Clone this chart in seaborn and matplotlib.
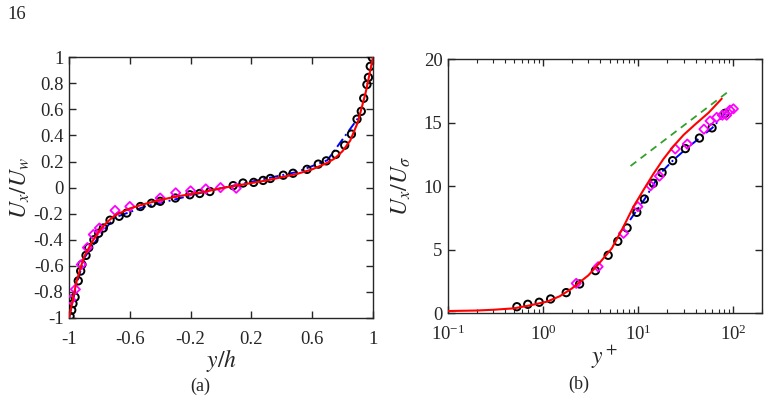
import numpy as np
import pandas as pd
import seaborn as sns
import matplotlib
matplotlib.use("Agg")
import matplotlib.pyplot as plt
from matplotlib import ticker

# ---- panel (a): U_x/U_w against y/h ----
a_circ_y = [-0.993, -0.982, -0.974, -0.96, -0.939, -0.923, -0.915, -0.888, -0.87, -0.836,
            -0.805, -0.774, -0.73, -0.67, -0.62, -0.53, -0.457, -0.40, -0.30, -0.205,
            -0.14, -0.073, 0.08, 0.145, 0.215, 0.277, 0.325, 0.41, 0.474, 0.566,
            0.64, 0.693, 0.755, 0.814, 0.858, 0.895, 0.923, 0.939, 0.96, 0.97, 0.982, 0.996]
a_circ_u = [-0.987, -0.94, -0.89, -0.84, -0.715, -0.64, -0.59, -0.52, -0.46, -0.40,
            -0.35, -0.31, -0.25, -0.22, -0.195, -0.145, -0.12, -0.105, -0.08, -0.055,
            -0.045, -0.03, 0.015, 0.035, 0.04, 0.055, 0.07, 0.095, 0.11, 0.14,
            0.18, 0.205, 0.255, 0.325, 0.41, 0.525, 0.585, 0.685, 0.79, 0.845, 0.93, 0.997]

a_diam_y = [-0.989, -0.958, -0.919, -0.879, -0.84, -0.80, -0.697, -0.60, -0.40, -0.298,
            -0.20, -0.10, -0.003, 0.10]
a_diam_u = [-0.86, -0.78, -0.59, -0.46, -0.36, -0.31, -0.175, -0.145, -0.08, -0.04,
            -0.025, -0.01, 0.0, -0.005]

a_blue_y = [-1.0, -0.95, -0.9, -0.8, -0.7, -0.5, -0.3, -0.1, 0.1, 0.3, 0.5, 0.7, 0.9]
a_blue_u = [-1.0, -0.74, -0.54, -0.37, -0.23, -0.145, -0.09, -0.03, 0.02, 0.07, 0.12, 0.21, 0.53]

a_red_y = [-1.0, -0.97, -0.95, -0.92, -0.9, -0.85, -0.8, -0.75, -0.7, -0.6, -0.5, -0.4,
           -0.3, -0.2, -0.1, 0.0, 0.1, 0.2, 0.3, 0.4, 0.5, 0.6, 0.7, 0.75, 0.8, 0.85,
           0.9, 0.95, 0.97, 1.0]
a_red_u = [-1.0, -0.83, -0.72, -0.6, -0.53, -0.42, -0.33, -0.265, -0.215, -0.16, -0.125,
           -0.095, -0.07, -0.05, -0.03, -0.005, 0.015, 0.035, 0.055, 0.08, 0.105, 0.14,
           0.19, 0.225, 0.28, 0.36, 0.5, 0.72, 0.83, 1.0]

a_xticks = [-1, -0.6, -0.2, 0.2, 0.6, 1]
a_yticks = [-1, -0.8, -0.6, -0.4, -0.2, 0, 0.2, 0.4, 0.6, 0.8, 1]

# ---- panel (b): U_x/U_sigma against y+ ----
b_circ_y = [0.53, 0.69, 0.91, 1.2, 1.75, 2.42, 3.55, 4.83, 6.1, 7.64, 9.66, 11.6,
            14.4, 17.8, 23.0, 31.3, 44.0, 59.7, 81.7]
b_circ_u = [0.52, 0.71, 0.87, 1.13, 1.63, 2.31, 3.36, 4.57, 5.67, 6.72, 7.95, 9.0,
            10.24, 11.08, 12.02, 12.97, 13.8, 14.6, 15.75]

b_diam_y = [2.23, 3.79, 7.0, 9.9, 13.5, 16.7, 24.5, 32.8, 49.0, 56.9, 66.8, 76.6, 85.0, 92.0, 100.0]
b_diam_u = [2.36, 3.67, 6.3, 8.4, 10.05, 10.8, 12.94, 13.33, 14.5, 15.15, 15.43, 15.6, 15.6, 16.0, 16.1]

b_blue_y = [8.2, 11.8, 17.0, 23.4, 32.4, 45.0, 60.0, 89.0]
b_blue_u = [7.35, 9.05, 11.0, 12.07, 13.0, 13.85, 14.6, 16.06]

b_red_y = [0.1, 0.2, 0.3, 0.49, 0.7, 1.1, 1.5, 2.0, 3.0, 4.0, 5.28, 7.0, 8.9, 11.35,
           14.5, 18.4, 23.4, 30.0, 40.0, 55.0, 75.5]
b_red_u = [0.18, 0.22, 0.28, 0.39, 0.6, 0.92, 1.35, 1.95, 3.0, 4.05, 5.12, 6.82, 8.39, 9.71,
           11.0, 12.15, 13.15, 14.05, 14.9, 15.8, 16.9]

b_log_y = [8.3, 90.0]
b_log_u = [11.6, 17.5]

b_yticks = [0, 5, 10, 15, 20]

sns.set_theme(style="ticks")
plt.rcParams.update({
    "font.family": ["Liberation Serif", "DejaVu Serif"],
    "mathtext.fontset": "stix",
    "axes.edgecolor": "#262626",
    "axes.linewidth": 1.0,
    "xtick.color": "#262626",
    "ytick.color": "#262626",
    "xtick.labelcolor": "#262626",
    "ytick.labelcolor": "#262626",
    "xtick.labelsize": 13.5,
    "ytick.labelsize": 13.5,
    "axes.labelcolor": "#262626",
})

fig = plt.figure(figsize=(7.7, 4.0), dpi=100)
ax1 = fig.add_axes([0.0896, 0.205, 0.3948, 0.652])
ax2 = fig.add_axes([0.5818, 0.2167, 0.4078, 0.635])

circ_kw = dict(marker="o", s=28, facecolor="none", edgecolor="black", linewidth=1.4, zorder=3)
diam_kw = dict(marker="D", s=22, facecolor="none", edgecolor="#ff00ff", linewidth=1.3, zorder=4)

# panel (a)
sns.lineplot(x=a_blue_y, y=a_blue_u, ax=ax1, color="blue", lw=1.4, sort=False,
             estimator=None, linestyle=(0, (5, 2, 1, 2)), zorder=2)
sns.scatterplot(x=a_circ_y, y=a_circ_u, ax=ax1, **circ_kw)
sns.scatterplot(x=a_diam_y, y=a_diam_u, ax=ax1, **diam_kw)
sns.lineplot(x=a_red_y, y=a_red_u, ax=ax1, color="red", lw=1.5, sort=False,
             estimator=None, zorder=5)

ax1.set_xlim(-1, 1)
ax1.set_ylim(-1, 1)
ax1.set_xticks(a_xticks)
ax1.set_xticklabels([f"{v:g}" for v in a_xticks])
ax1.set_yticks(a_yticks)
ax1.set_yticklabels([f"{v:g}" for v in a_yticks])
ax1.set_xlabel(r"$y/h$", fontsize=17, labelpad=0)
ax1.set_ylabel(r"$U_x/U_w$", fontsize=17, labelpad=1)

# panel (b)
sns.lineplot(x=b_log_y, y=b_log_u, ax=ax2, color="#33a02c", lw=1.3, sort=False,
             estimator=None, linestyle=(0, (4, 3)), zorder=2)
sns.lineplot(x=b_blue_y, y=b_blue_u, ax=ax2, color="blue", lw=1.4, sort=False,
             estimator=None, linestyle=(0, (5, 2, 1, 2)), zorder=2)
sns.scatterplot(x=b_circ_y, y=b_circ_u, ax=ax2, **circ_kw)
sns.scatterplot(x=b_diam_y, y=b_diam_u, ax=ax2, **diam_kw)
sns.lineplot(x=b_red_y, y=b_red_u, ax=ax2, color="red", lw=1.5, sort=False,
             estimator=None, zorder=5)

ax2.set_xscale("log")
ax2.set_xlim(0.1, 200)
ax2.set_ylim(0, 20)
ax2.set_yticks(b_yticks)
ax2.xaxis.set_major_locator(ticker.LogLocator(base=10, numticks=10))
ax2.xaxis.set_minor_locator(ticker.LogLocator(base=10, subs=np.arange(2, 10), numticks=20))
ax2.xaxis.set_major_formatter(ticker.LogFormatterMathtext())
ax2.xaxis.set_minor_formatter(ticker.NullFormatter())
ax2.set_xlabel(r"$y^+$", fontsize=17, labelpad=0)
ax2.set_ylabel(r"$U_x/U_\sigma$", fontsize=17, labelpad=8)

for ax in (ax1, ax2):
    for s in ax.spines.values():
        s.set_visible(True)
    ax.tick_params(which="both", direction="in", top=True, right=True)
    ax.tick_params(which="major", length=5, width=1.0)
    ax.tick_params(which="minor", length=3, width=0.8)
    ax.tick_params(axis="y", pad=4)
ax1.tick_params(axis="x", pad=9)
ax2.tick_params(axis="x", pad=8)

fig.text(0.26, 0.035, "(a)", ha="center", va="center", fontsize=13)
fig.text(0.751, 0.038, "(b)", ha="center", va="center", fontsize=13)
fig.text(0.010, 0.963, "16", ha="left", va="center", fontsize=13.5)

fig.savefig("out.png", dpi=100)
